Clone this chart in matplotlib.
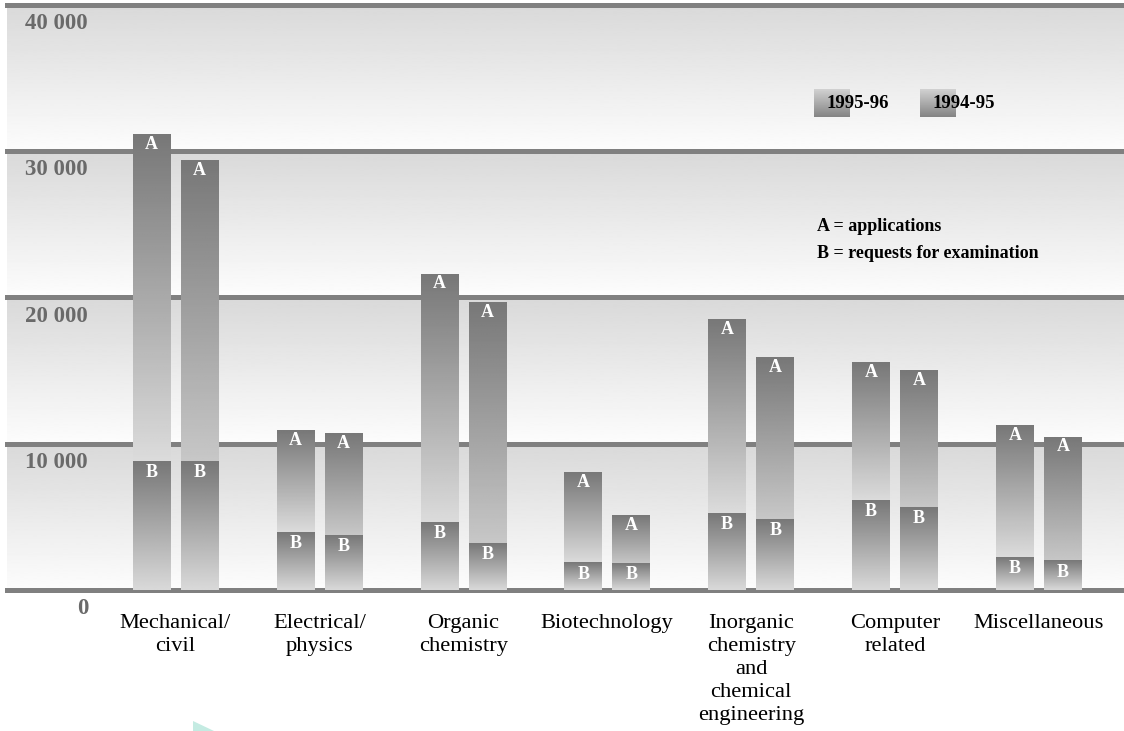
import matplotlib
matplotlib.use("Agg")
import matplotlib.pyplot as plt
from matplotlib.patches import Polygon
import numpy as np

# Data
categories = ["Mechanical/\ncivil", "Electrical/\nphysics", "Organic\nchemistry",
              "Biotechnology", "Inorganic\nchemistry\nand\nchemical\nengineering",
              "Computer\nrelated", "Miscellaneous"]
years = ["1995-96", "1994-95"]
apps_9596 = [31100, 10900, 21600, 8050, 18500, 15550, 11250]
exam_9596 = [8800, 3950, 4600, 1850, 5250, 6100, 2250]
apps_9495 = [29350, 10700, 19650, 5100, 15900, 15000, 10450]
exam_9495 = [8800, 3750, 3200, 1800, 4850, 5650, 2000]
yticks = [0, 10000, 20000, 30000, 40000]
ytick_labels = ["0", "10 000", "20 000", "30 000", "40 000"]
key_lines = ["A = applications", "B = requests for examination"]

W, H = 1124, 731
SERIF = ["Liberation Serif", "DejaVu Serif"]

fig = plt.figure(figsize=(W / 100, H / 100), dpi=100)
fig.patch.set_facecolor("white")
ax = fig.add_axes([7 / W, 141 / H, 1117 / W, 585.5 / H])
xlim = (-1.171, 6.591)
ax.set_axis_off()


def gradient(ax, x0, x1, y0, y1, lo, hi, z):
    # vertical grey gradient, lo at bottom, hi at top
    g = np.linspace(lo, hi, 128)[:, None]
    ax.imshow(g, extent=(x0, x1, y0, y1), origin="lower", cmap="gray",
              vmin=0, vmax=1, aspect="auto", interpolation="bilinear", zorder=z)


# background bands
for k in range(len(yticks) - 1):
    gradient(ax, xlim[0], xlim[1], yticks[k], yticks[k + 1], 0.99, 0.85, 0)

# gridlines
for v in yticks:
    ax.axhline(v - 90, color="#b4b4b4", lw=1.2, zorder=1, clip_on=False)
    ax.axhline(v, color="#808080", lw=3.6, zorder=1.5, clip_on=False)

# bars
width = 0.261
offsets = [-0.1668, 0.1668]
series = [(apps_9596, exam_9596, 0.86), (apps_9495, exam_9495, 0.78)]
for i in range(len(categories)):
    for off, (apps, exam, light) in zip(offsets, series):
        xc = i + off
        x0, x1 = xc - width / 2, xc + width / 2
        gradient(ax, x0, x1, exam[i], apps[i], light, 0.47, 2)
        gradient(ax, x0, x1, 0, exam[i], 0.85, 0.47, 2)
        ax.annotate("A", xy=(xc, apps[i]), xytext=(0, -1), textcoords="offset points",
                    ha="center", va="top", color="white", fontsize=13,
                    fontweight="bold", family=SERIF, zorder=3)
        ax.annotate("B", xy=(xc, exam[i]), xytext=(0, -2), textcoords="offset points",
                    ha="center", va="top", color="white", fontsize=13,
                    fontweight="bold", family=SERIF, zorder=3)

ax.set_xlim(*xlim)
ax.set_ylim(0, 40000)

# y tick labels, right aligned, just under each gridline
for v, lab in zip(yticks, ytick_labels):
    ax.annotate(lab, xy=((88 - 7) / 1117, v), xycoords=("axes fraction", "data"),
                xytext=(0, -13.5), textcoords="offset points", ha="right", va="center",
                color="#6a6a6a", fontsize=16.5, fontweight="bold", family=SERIF,
                annotation_clip=False)

# category labels
for i, cat in enumerate(categories):
    ax.annotate(cat, xy=(i, 0), xytext=(0, -17), textcoords="offset points",
                ha="center", va="top", fontsize=16.2, linespacing=1.3,
                family=SERIF, color="black", annotation_clip=False)

# legend squares
for x_sq, x_txt, yr in zip([814, 920], [827, 933], years):
    sq = fig.add_axes([x_sq / W, 1 - 117 / H, 36 / W, 28 / H])
    sq.imshow(np.linspace(0.82, 0.52, 64)[:, None], cmap="gray", vmin=0, vmax=1,
              aspect="auto", interpolation="bilinear")
    sq.set_axis_off()
    fig.text(x_txt / W, 1 - 103 / H, yr, ha="left", va="center", fontsize=13.5,
             fontweight="bold", family=SERIF, color="black")

for y_txt, line in zip([226, 254], key_lines):
    fig.text(817 / W, 1 - y_txt / H, line, ha="left", va="center", fontsize=13,
             fontweight="bold", family=SERIF, color="black")

# faint watermark corner at the bottom
fig.patches.append(Polygon([(193 / W, 0), (193 / W, 1 - 721 / H), (214 / W, 0)],
                           closed=True, transform=fig.transFigure,
                           facecolor="#c4ebe2", edgecolor="none"))

fig.savefig("out.png", dpi=100)
